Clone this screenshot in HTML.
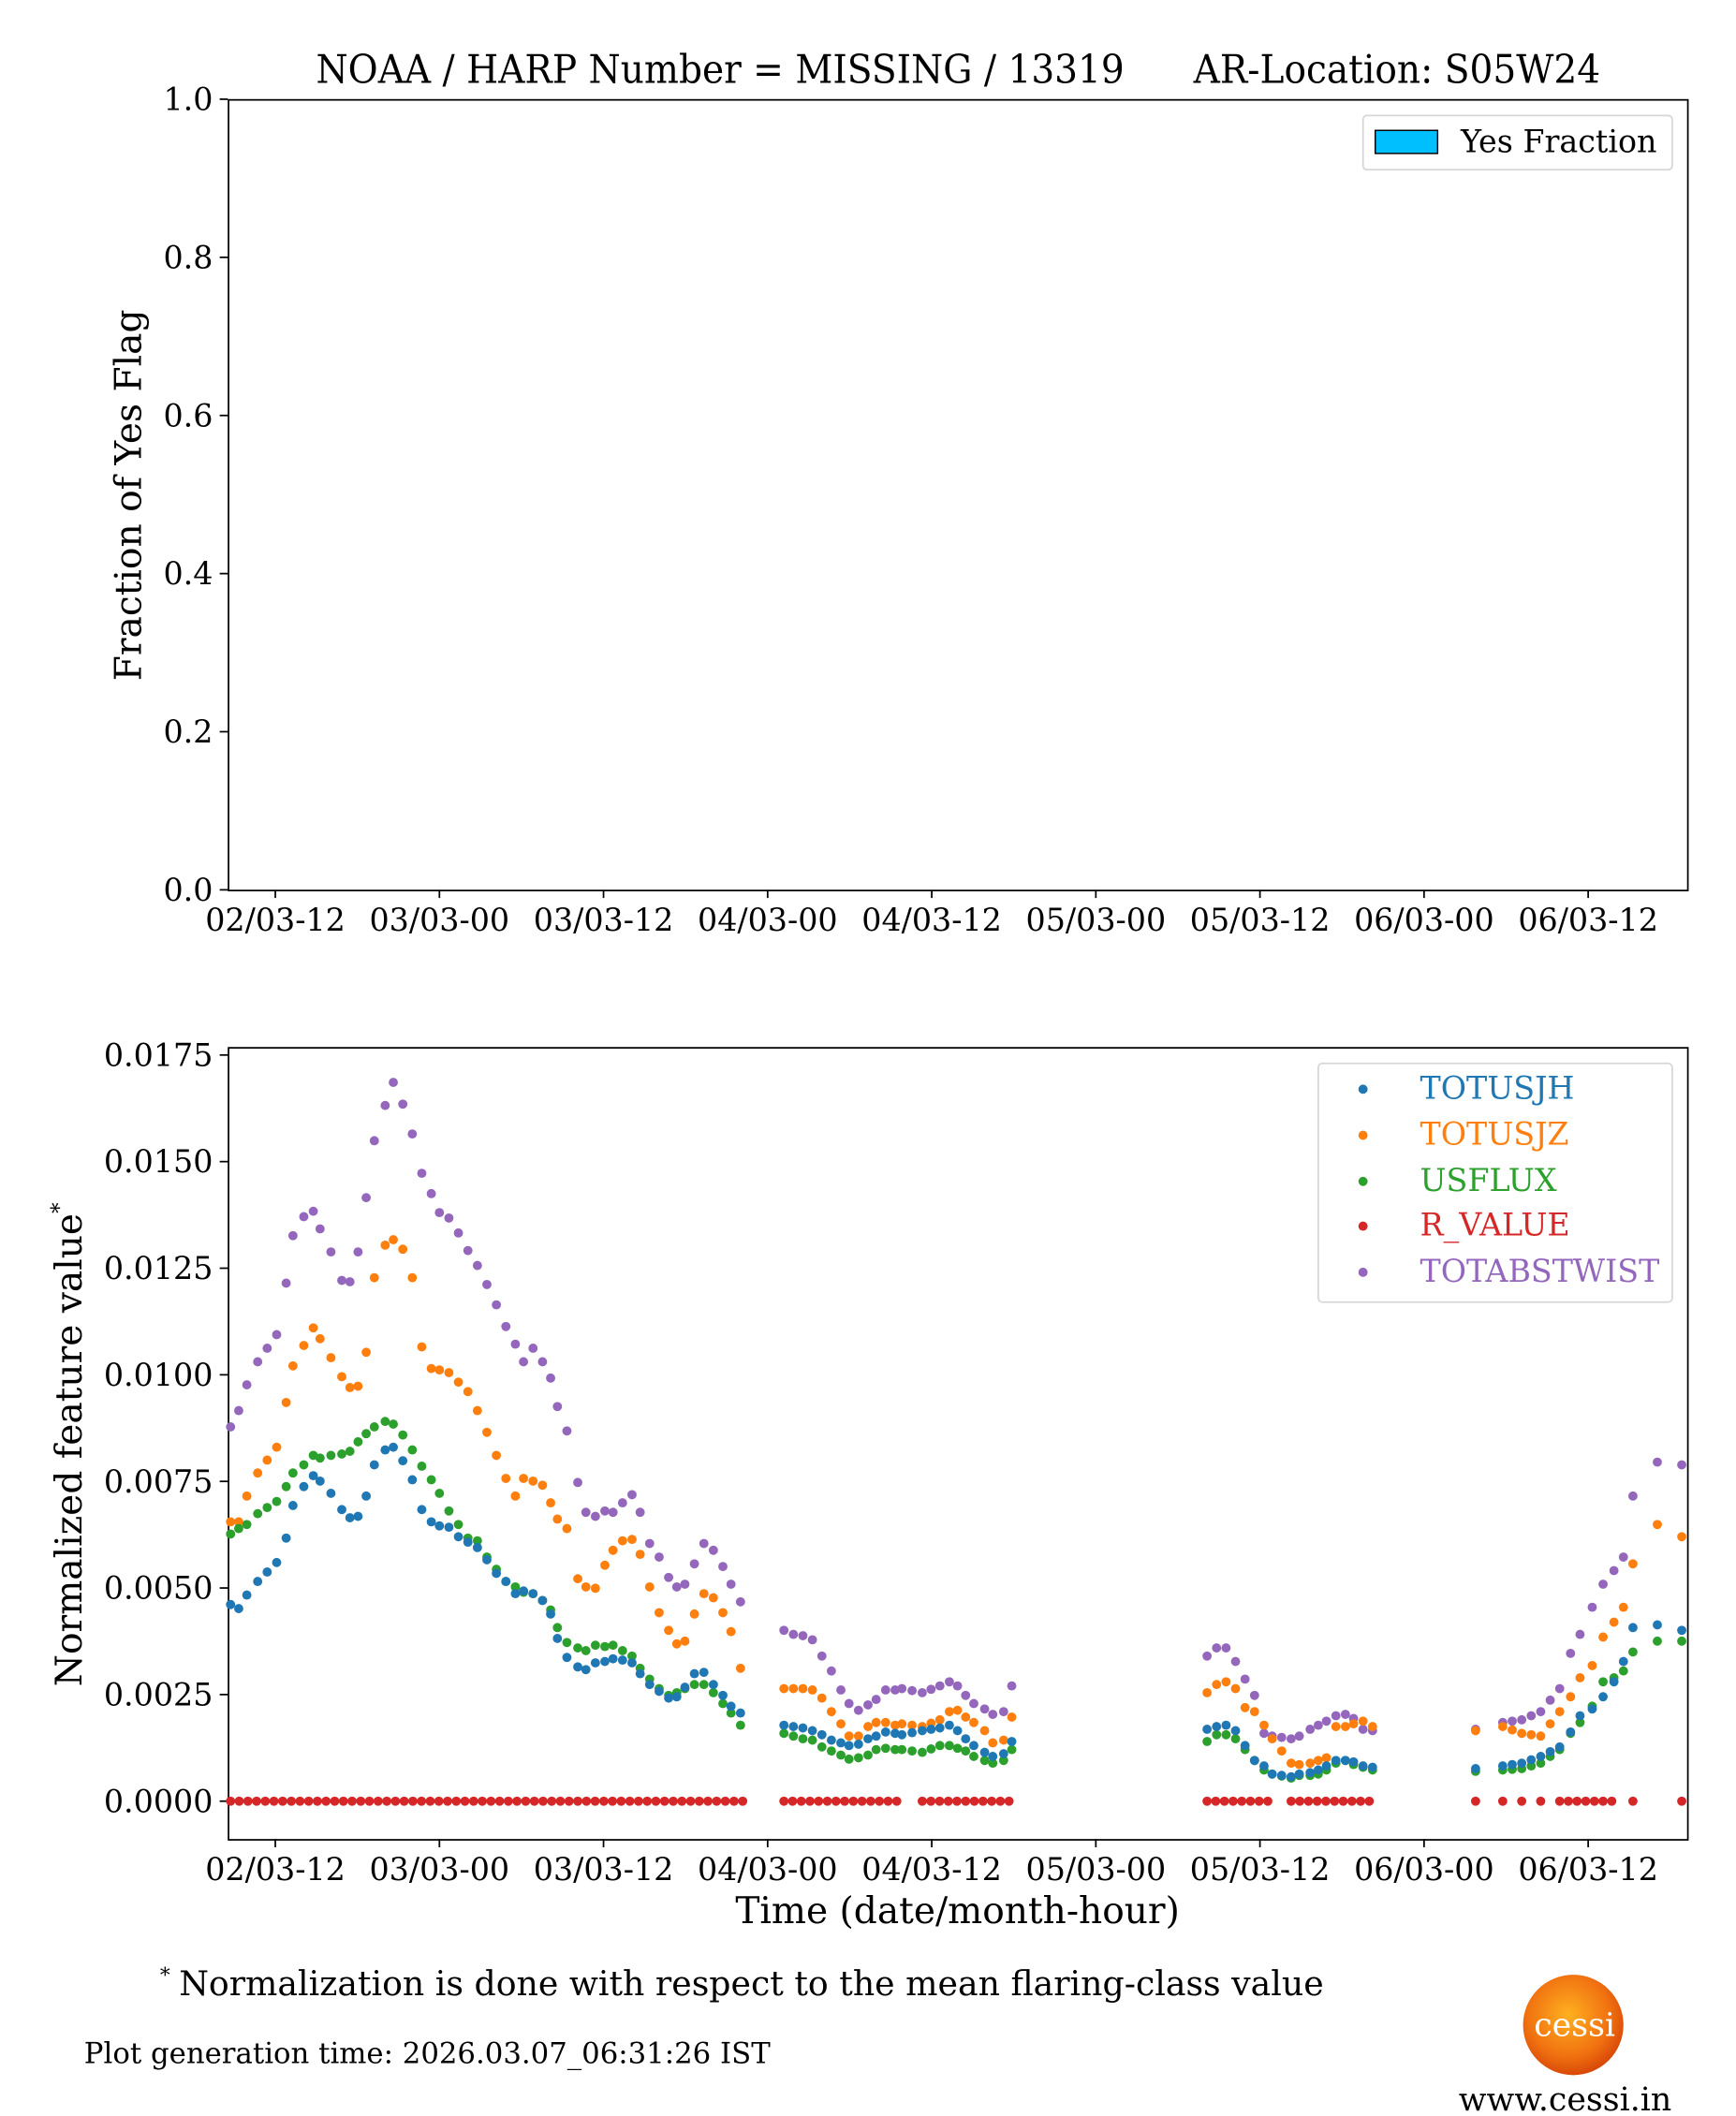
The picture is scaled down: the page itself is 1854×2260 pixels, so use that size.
<!DOCTYPE html>
<html><head><meta charset="utf-8"><style>
html,body{margin:0;padding:0;background:#fff;}
svg{display:block;}
text{font-family:"DejaVu Serif","Liberation Serif",serif;}
</style></head><body>
<svg id="s" width="1854" height="2260" viewBox="0 0 1280 1560" xmlns="http://www.w3.org/2000/svg">
<defs><radialGradient id="sun" cx="45%" cy="40%" r="60%"><stop offset="0" stop-color="#ffb020"/><stop offset="0.7" stop-color="#f07010"/><stop offset="1" stop-color="#d84a08"/></radialGradient></defs>
<rect width="1280" height="1560" fill="#fff"/>
<text x="233" y="61" font-size="29" textLength="596" lengthAdjust="spacingAndGlyphs">NOAA / HARP Number = MISSING / 13319</text>
<text x="880" y="61" font-size="29" textLength="300" lengthAdjust="spacingAndGlyphs">AR-Location: S05W24</text>
<rect x="168.5" y="73.5" width="1076" height="583" fill="none" stroke="#000" stroke-width="1.2"/>
<rect x="168.5" y="772.5" width="1076" height="584" fill="none" stroke="#000" stroke-width="1.2"/>
<g id="ticks" font-size="23"></g>
<text transform="translate(104,365) rotate(-90)" font-size="27" text-anchor="middle">Fraction of Yes Flag</text>
<text transform="translate(60,1065) rotate(-90)" font-size="27" text-anchor="middle">Normalized feature value<tspan dy="-11" font-size="16">*</tspan></text>
<text x="706" y="1418" font-size="27" text-anchor="middle">Time (date/month-hour)</text>
<rect x="1005" y="85" width="228" height="40" rx="3" fill="#fff" stroke="#d6d6d6" stroke-width="1.2"/>
<rect x="1014" y="96" width="46" height="17" fill="#00bfff" stroke="#000" stroke-width="1"/>
<text x="1077" y="112" font-size="23">Yes Fraction</text>
<g id="pts"></g>
<rect x="972" y="784" width="261" height="176" rx="3" fill="#fff" stroke="#d6d6d6" stroke-width="1.2"/>
<g font-size="23">
<circle cx="1005" cy="803" r="3.4" fill="#1f77b4"/><text x="1047" y="810" fill="#1f77b4">TOTUSJH</text>
<circle cx="1005" cy="837" r="3.4" fill="#ff7f0e"/><text x="1047" y="844" fill="#ff7f0e">TOTUSJZ</text>
<circle cx="1005" cy="871" r="3.4" fill="#2ca02c"/><text x="1047" y="878" fill="#2ca02c">USFLUX</text>
<circle cx="1005" cy="904" r="3.4" fill="#d62728"/><text x="1047" y="911" fill="#d62728">R_VALUE</text>
<circle cx="1005" cy="938" r="3.4" fill="#9467bd"/><text x="1047" y="945" fill="#9467bd">TOTABSTWIST</text>
</g>
<text x="118" y="1461" font-size="15">*</text>
<text x="132" y="1471" font-size="25" textLength="844" lengthAdjust="spacingAndGlyphs">Normalization is done with respect to the mean flaring-class value</text>
<text x="62" y="1521" font-size="21" textLength="506" lengthAdjust="spacingAndGlyphs">Plot generation time: 2026.03.07_06:31:26 IST</text>
<circle cx="1160" cy="1493" r="37" fill="url(#sun)"/>
<text x="1161" y="1501" font-size="24" fill="#fff" text-anchor="middle">cessi</text>
<text x="1154" y="1556" font-size="24" text-anchor="middle">www.cessi.in</text>
</svg>
<script>
var NS="http://www.w3.org/2000/svg";
function el(p,t,a,txt){var e=document.createElementNS(NS,t);for(var k in a)e.setAttribute(k,a[k]);if(txt!=null)e.textContent=txt;p.appendChild(e);return e;}
var T=document.getElementById('ticks');
var xl=["02/03-12","03/03-00","03/03-12","04/03-00","04/03-12","05/03-00","05/03-12","06/03-00","06/03-12"];
for(var i=0;i<9;i++){var x=203+121*i;
 [656,1356].forEach(function(y){el(T,'line',{x1:x,x2:x,y1:y,y2:y+6,stroke:'#000','stroke-width':1.2});el(T,'text',{x:x,y:y+30,'text-anchor':'middle'},xl[i]);});}
for(var i=0;i<=5;i++){var y=656-i*116.6;el(T,'line',{x1:162,x2:168,y1:y,y2:y,stroke:'#000','stroke-width':1.2});el(T,'text',{x:157,y:y+8,'text-anchor':'end'},(i*0.2).toFixed(1));}
for(var i=0;i<=7;i++){var y=1328-i*78.6;el(T,'line',{x1:162,x2:168,y1:y,y2:y,stroke:'#000','stroke-width':1.2});el(T,'text',{x:157,y:y+8,'text-anchor':'end'},(i*0.0025).toFixed(4));}
var X=[170,176,182,190,204,211,216,224,231,236,244,252,258,264,270,276,284,290,297,304,311,318,324,331,338,345,352,359,366,373,380,386,393,400,406,411,418,426,432,439,446,452,459,466,472,479,486,493,499,505,512,519,526,533,539,546,578,585,592,599,606,613,620,626,633,640,646,653,660,665,680,693,700,706,712,718,726,732,740,746,890,897,904,911,918,925,932,938,952,958,966,972,978,985,992,998,1005,1012,1088,1108,1122,1136,1150,1158,1165,1174,1182,1190,1197,1204,1222,1240];
var S={
'#9467bd':[1052,1040,1021,1004,984,946,911,897,893,906,923,944,945,923,883,841,815,798,814,836,865,880,894,898,909,922,933,947,962,978,991,1004,994,1004,1016,1037,1055,1093,1115,1118,1114,1115,1108,1102,1115,1138,1148,1163,1170,1168,1153,1138,1143,1155,1168,1181,1202,1205,1206,1209,1221,1232,1246,1256,1261,1257,1253,1246,1246,1245,1248,1243,1240,1243,1250,1256,1260,1264,1262,1243,1221,1215,1215,1225,1238,1250,1278,1280,1282,1280,1275,1272,1269,1265,1264,1267,1275,1276,1275,1270,1268,1262,1245,1219,1205,1185,1168,1158,1148,1103,1078,1080],
'#ff7f0e':[1122,1122,1103,1086,1067,1034,1007,992,979,987,1001,1015,1023,1022,997,942,918,914,921,942,993,1009,1010,1012,1019,1026,1040,1056,1073,1090,1103,1090,1092,1095,1108,1120,1127,1164,1170,1171,1154,1143,1136,1135,1146,1170,1189,1202,1212,1210,1190,1175,1178,1189,1203,1230,1245,1245,1245,1246,1252,1262,1271,1280,1280,1273,1270,1270,1272,1271,1273,1268,1262,1261,1266,1270,1276,1285,1283,1266,1248,1242,1240,1245,1259,1262,1272,1282,1300,1301,1300,1298,1296,1273,1273,1271,1269,1273,1276,1273,1278,1280,1262,1251,1237,1228,1207,1196,1185,1153,1124,1133],
'#2ca02c':[1131,1127,1124,1116,1107,1096,1086,1080,1073,1075,1073,1072,1070,1063,1057,1052,1048,1050,1058,1069,1081,1091,1101,1114,1124,1134,1136,1148,1157,1166,1170,1174,1175,1180,1187,1200,1211,1215,1217,1213,1214,1213,1217,1221,1230,1238,1245,1250,1248,1245,1242,1242,1248,1256,1263,1272,1278,1280,1282,1283,1288,1291,1294,1297,1296,1294,1290,1289,1290,1290,1292,1287,1287,1289,1291,1295,1298,1300,1298,1290,1284,1279,1279,1282,1290,1298,1305,1308,1311,1309,1309,1308,1305,1300,1298,1301,1303,1305,1306,1305,1304,1300,1290,1278,1270,1258,1240,1237,1232,1218,1210,1210],
'#1f77b4':[1183,1186,1176,1166,1152,1134,1110,1096,1088,1092,1101,1113,1119,1118,1103,1080,1069,1067,1077,1091,1113,1122,1125,1126,1133,1137,1141,1150,1160,1166,1175,1173,1175,1180,1190,1208,1222,1229,1231,1226,1225,1223,1224,1226,1234,1242,1247,1252,1251,1244,1234,1233,1242,1250,1258,1263,1272,1273,1274,1276,1279,1283,1285,1287,1286,1282,1280,1277,1278,1279,1276,1274,1272,1276,1282,1287,1292,1295,1293,1284,1275,1273,1272,1276,1287,1298,1302,1308,1310,1308,1307,1305,1302,1298,1298,1299,1302,1303,1304,1302,1300,1295,1288,1277,1265,1260,1251,1240,1225,1200,1198,1202]};
var P=document.getElementById('pts');
[[170,548],[578,666],[680,748],[890,938],[952,1012],[1088,1090],[1108,1110],[1122,1124],[1136,1138],[1150,1192],[1204,1206],[1240,1242]].forEach(function(r){for(var x=r[0];x<=r[1];x+=6.4)el(P,'circle',{cx:x,cy:1328,r:3.4,fill:'#d62728'});});
['#9467bd','#ff7f0e','#2ca02c','#1f77b4'].forEach(function(c){var a=S[c];for(var i=0;i<a.length;i++){el(P,'circle',{cx:X[i],cy:a[i],r:3.4,fill:c});
 if(i+1<a.length&&X[i+1]-X[i]<16&&X[i+1]-X[i]>9){el(P,'circle',{cx:(X[i]+X[i+1])/2,cy:(a[i]+a[i+1])/2,r:3.4,fill:c});}}});
</script>
</body></html>
